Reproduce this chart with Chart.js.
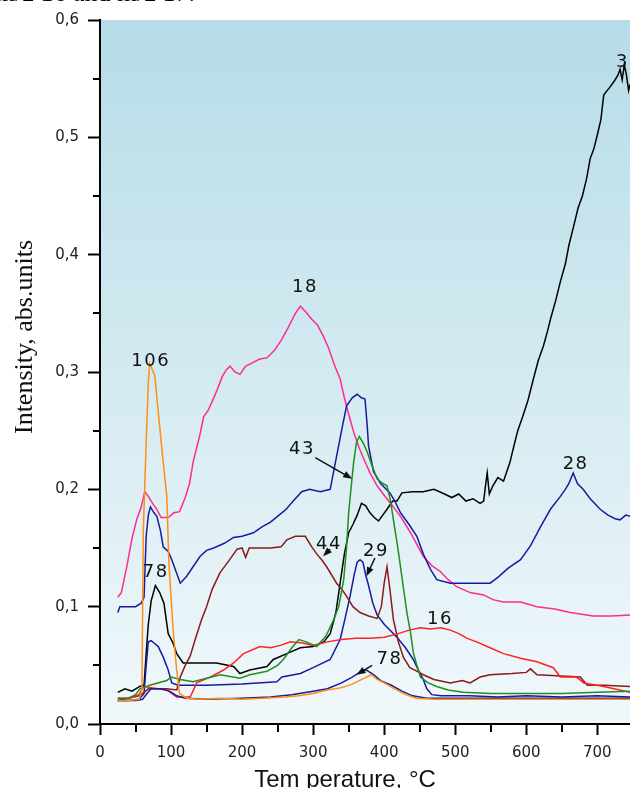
<!DOCTYPE html>
<html>
<head>
<meta charset="utf-8">
<script src="https://cdn.jsdelivr.net/npm/chart.js@4.4.1/dist/chart.umd.min.js"></script>
<style>
  html, body { margin: 0; padding: 0; background: #fff; }
  #wrap { position: relative; width: 630px; height: 788px; overflow: hidden; }
  #chartBox { position: absolute; left: 0; top: 0; width: 630px; height: 788px; }
  #caption { position: absolute; left: -5px; top: -20px; font: 26px/26px "Liberation Serif", serif; color: #000; white-space: nowrap; }
</style>
</head>
<body>
<div id="wrap">
  <div id="chartBox"><canvas id="tpdCanvas"></canvas></div>
  <div id="caption">m/z 16 and m/z 17.</div>
</div>
<script>
// ticks
const xTickValues = [0, 50, 100, 150, 200, 250, 300, 350, 400, 450, 500, 550, 600, 650, 700];
const yTickValues = [0, 0.05, 0.1, 0.15, 0.2, 0.25, 0.3, 0.35, 0.4, 0.45, 0.5, 0.55, 0.6];

// series, [temperature, intensity]
const mz3 = [[25,0.027],[35,0.03],[45,0.028],[56,0.032],[62,0.033],[65,0.06],[68,0.085],[72,0.105],[78,0.118],[84,0.112],[90,0.103],[96,0.077],[102,0.07],[108,0.06],[117,0.052],[141,0.052],[164,0.052],[188,0.049],[197,0.043],[211,0.046],[235,0.049],[244,0.055],[263,0.06],[282,0.065],[300,0.066],[315,0.07],[324,0.077],[332,0.095],[338,0.12],[344,0.145],[350,0.163],[356,0.17],[362,0.178],[368,0.188],[374,0.186],[380,0.18],[386,0.176],[392,0.173],[398,0.178],[404,0.183],[412,0.19],[418,0.19],[425,0.197],[440,0.198],[455,0.198],[470,0.2],[485,0.196],[495,0.193],[505,0.196],[515,0.19],[525,0.192],[535,0.188],[540,0.19],[543,0.205],[545,0.214],[548,0.196],[553,0.203],[560,0.21],[568,0.207],[577,0.223],[583,0.238],[588,0.25],[595,0.262],[602,0.275],[610,0.294],[617,0.31],[624,0.322],[630,0.335],[634,0.345],[641,0.36],[648,0.377],[655,0.392],[660,0.408],[667,0.425],[673,0.44],[679,0.45],[685,0.465],[690,0.482],[695,0.49],[700,0.502],[705,0.515],[709,0.536],[714,0.54],[718,0.543],[724,0.548],[729,0.553],[732,0.558],[735,0.549],[738,0.562],[741,0.553],[744,0.54],[746,0.545]];
const mz18 = [[25,0.108],[30,0.112],[38,0.135],[45,0.158],[52,0.175],[58,0.185],[63,0.198],[68,0.194],[74,0.188],[80,0.183],[86,0.176],[96,0.176],[104,0.18],[112,0.181],[120,0.193],[126,0.205],[131,0.223],[140,0.245],[146,0.262],[152,0.267],[158,0.275],[165,0.285],[172,0.296],[178,0.302],[183,0.305],[190,0.3],[197,0.298],[205,0.305],[215,0.308],[225,0.311],[235,0.312],[245,0.318],[255,0.327],[265,0.338],[275,0.35],[282,0.356],[290,0.351],[298,0.345],[306,0.34],[314,0.331],[322,0.32],[330,0.306],[338,0.294],[344,0.278],[350,0.264],[358,0.247],[365,0.235],[372,0.225],[380,0.214],[390,0.203],[400,0.195],[413,0.185],[425,0.175],[437,0.163],[446,0.153],[455,0.143],[467,0.135],[479,0.13],[490,0.123],[502,0.117],[521,0.112],[540,0.11],[553,0.106],[568,0.104],[592,0.104],[615,0.1],[640,0.098],[662,0.095],[694,0.092],[720,0.092],[746,0.093]];
const mz28 = [[25,0.095],[28,0.1],[40,0.1],[50,0.1],[58,0.103],[62,0.108],[65,0.16],[68,0.178],[71,0.185],[76,0.18],[80,0.177],[85,0.165],[89,0.151],[96,0.147],[101,0.14],[107,0.13],[113,0.12],[122,0.126],[131,0.134],[141,0.143],[150,0.148],[160,0.15],[175,0.154],[188,0.159],[200,0.16],[216,0.163],[228,0.168],[240,0.172],[252,0.178],[262,0.183],[272,0.19],[284,0.198],[295,0.2],[310,0.198],[324,0.2],[333,0.228],[340,0.25],[347,0.271],[355,0.278],[362,0.281],[368,0.278],[373,0.277],[376,0.255],[378,0.237],[385,0.215],[395,0.205],[408,0.197],[415,0.19],[423,0.18],[435,0.17],[446,0.16],[455,0.145],[465,0.132],[474,0.123],[493,0.12],[510,0.12],[521,0.12],[545,0.12],[549,0.12],[560,0.125],[575,0.133],[592,0.14],[606,0.152],[620,0.168],[634,0.183],[648,0.194],[655,0.2],[660,0.205],[666,0.214],[672,0.205],[680,0.2],[690,0.192],[704,0.183],[715,0.178],[725,0.175],[732,0.174],[740,0.178],[746,0.177]];
const mz29 = [[25,0.02],[40,0.02],[55,0.021],[62,0.026],[65,0.05],[68,0.07],[72,0.071],[76,0.069],[82,0.066],[89,0.057],[96,0.046],[101,0.035],[110,0.033],[150,0.033],[200,0.034],[249,0.036],[256,0.04],[282,0.043],[300,0.048],[324,0.055],[338,0.072],[345,0.09],[352,0.109],[358,0.128],[362,0.138],[366,0.14],[370,0.138],[374,0.127],[378,0.118],[384,0.103],[390,0.093],[400,0.085],[418,0.074],[430,0.065],[441,0.055],[448,0.046],[455,0.038],[460,0.03],[467,0.025],[480,0.024],[520,0.024],[560,0.023],[600,0.024],[650,0.023],[700,0.024],[746,0.023]];
const mz44 = [[25,0.02],[40,0.022],[55,0.024],[62,0.027],[68,0.03],[80,0.03],[94,0.03],[108,0.029],[113,0.04],[120,0.05],[127,0.058],[134,0.072],[143,0.089],[150,0.1],[158,0.115],[169,0.129],[180,0.138],[193,0.149],[200,0.15],[205,0.142],[210,0.15],[225,0.15],[240,0.15],[255,0.151],[263,0.157],[275,0.16],[289,0.16],[298,0.151],[305,0.145],[312,0.14],[319,0.134],[326,0.127],[333,0.12],[340,0.115],[347,0.109],[356,0.1],[366,0.095],[378,0.092],[390,0.09],[396,0.1],[400,0.12],[404,0.134],[408,0.115],[413,0.089],[420,0.07],[427,0.057],[436,0.048],[446,0.045],[455,0.042],[470,0.038],[493,0.035],[510,0.037],[521,0.035],[535,0.04],[549,0.042],[580,0.043],[600,0.044],[606,0.047],[615,0.042],[650,0.041],[676,0.04],[686,0.033],[710,0.033],[746,0.032]];
const mz43 = [[25,0.022],[40,0.022],[50,0.025],[56,0.03],[70,0.033],[94,0.037],[100,0.04],[113,0.038],[131,0.036],[150,0.039],[169,0.042],[197,0.039],[211,0.042],[235,0.045],[250,0.05],[258,0.055],[270,0.065],[280,0.072],[290,0.07],[305,0.066],[318,0.075],[329,0.089],[336,0.1],[343,0.123],[347,0.15],[350,0.18],[354,0.205],[357,0.223],[361,0.24],[365,0.245],[370,0.24],[376,0.232],[383,0.22],[390,0.209],[398,0.205],[404,0.203],[409,0.19],[413,0.174],[418,0.155],[423,0.134],[428,0.112],[432,0.095],[437,0.078],[441,0.061],[446,0.05],[451,0.04],[462,0.035],[474,0.032],[490,0.029],[511,0.027],[550,0.026],[600,0.026],[650,0.026],[700,0.027],[746,0.028]];
const mz16 = [[25,0.022],[40,0.022],[55,0.025],[61,0.032],[72,0.031],[82,0.03],[94,0.029],[108,0.023],[127,0.023],[136,0.035],[155,0.04],[174,0.046],[188,0.052],[202,0.06],[225,0.066],[240,0.065],[254,0.067],[268,0.07],[285,0.069],[300,0.067],[320,0.07],[340,0.072],[360,0.073],[380,0.073],[400,0.074],[420,0.077],[435,0.08],[451,0.082],[465,0.081],[480,0.082],[493,0.08],[505,0.077],[517,0.073],[530,0.07],[545,0.066],[568,0.06],[592,0.056],[615,0.053],[638,0.048],[648,0.04],[671,0.04],[681,0.035],[709,0.032],[746,0.027]];
const mz106 = [[25,0.02],[40,0.02],[55,0.021],[59,0.029],[61,0.166],[65,0.24],[68,0.291],[70,0.307],[73,0.303],[77,0.297],[82,0.266],[89,0.223],[94,0.194],[97,0.137],[103,0.08],[108,0.045],[112,0.026],[122,0.022],[140,0.021],[170,0.022],[200,0.021],[230,0.022],[260,0.023],[280,0.024],[300,0.026],[320,0.029],[340,0.031],[355,0.034],[365,0.037],[375,0.04],[382,0.042],[390,0.038],[400,0.035],[415,0.03],[430,0.025],[445,0.022],[470,0.021],[500,0.021],[550,0.021],[600,0.021],[650,0.021],[700,0.021],[746,0.021]];
const mz78 = [[25,0.02],[50,0.02],[60,0.021],[66,0.026],[72,0.03],[85,0.03],[98,0.028],[108,0.024],[120,0.022],[150,0.021],[200,0.022],[240,0.023],[270,0.025],[300,0.028],[320,0.03],[340,0.035],[355,0.04],[368,0.045],[375,0.046],[385,0.042],[395,0.037],[410,0.033],[425,0.028],[440,0.024],[460,0.022],[500,0.022],[600,0.022],[700,0.022],[746,0.022]];

// peak labels and arrows (data coordinates)
const peakNames = ['3', '28', '18', '106', '78', '43', '44', '29', '16', '78'];
const peakAt = [[734,0.564],[668,0.221],[287,0.372],[70,0.309],[77,0.129],[283,0.234],[321,0.153],[387,0.147],[477,0.089],[406,0.055]];
const arrowFrom = [[303,0.227],[324,0.149],[387,0.1415],[383,0.05]];
const arrowTo = [[355,0.209],[314,0.143],[375,0.126],[361,0.042]];

const isMajorX = v => v % 100 === 0;
const isMajorY = v => Math.round(v * 100) % 10 === 0;
const toXY = arr => arr.map(p => ({ x: p[0], y: p[1] }));

function line(label, data, color) {
    return { label: label, data: toXY(data), borderColor: color, borderWidth: 1.5,
             pointRadius: 0, fill: false, tension: 0 };
}

const gradientBg = {
    id: 'gradientBg',
    beforeDraw(chart) {
        const { ctx, chartArea: a } = chart;
        const g = ctx.createLinearGradient(0, a.top, 0, a.bottom);
        g.addColorStop(0, '#b6dce7');
        g.addColorStop(1, '#f1f8fb');
        ctx.save();
        ctx.fillStyle = g;
        ctx.fillRect(a.left, a.top, a.right - a.left, a.bottom - a.top);
        ctx.restore();
    }
};

const decorations = {
    id: 'decorations',
    afterDatasetsDraw(chart) {
        const { ctx, scales: { x, y } } = chart;
        ctx.save();
        ctx.fillStyle = '#111';
        ctx.strokeStyle = '#111';
        ctx.font = '18px "DejaVu Sans"';
        ctx.letterSpacing = '1.5px';
        ctx.textAlign = 'center';
        ctx.textBaseline = 'middle';
        peakNames.forEach((name, i) => {
            ctx.fillText(name, x.getPixelForValue(peakAt[i][0]) + 1, y.getPixelForValue(peakAt[i][1]));
        });
        ctx.letterSpacing = '0px';
        ctx.lineWidth = 1.5;
        arrowFrom.forEach((p, i) => {
            const x0 = x.getPixelForValue(p[0]), y0 = y.getPixelForValue(p[1]);
            const x1 = x.getPixelForValue(arrowTo[i][0]), y1 = y.getPixelForValue(arrowTo[i][1]);
            const ang = Math.atan2(y1 - y0, x1 - x0);
            ctx.beginPath();
            ctx.moveTo(x0, y0);
            ctx.lineTo(x1 - 6 * Math.cos(ang), y1 - 6 * Math.sin(ang));
            ctx.stroke();
            ctx.beginPath();
            ctx.moveTo(x1, y1);
            ctx.lineTo(x1 - 9 * Math.cos(ang) + 3.5 * Math.sin(ang), y1 - 9 * Math.sin(ang) - 3.5 * Math.cos(ang));
            ctx.lineTo(x1 - 9 * Math.cos(ang) - 3.5 * Math.sin(ang), y1 - 9 * Math.sin(ang) + 3.5 * Math.cos(ang));
            ctx.closePath();
            ctx.fill();
        });
        ctx.restore();
    },
    afterDraw(chart) {
        const { ctx, chartArea: a, scales: { x, y } } = chart;
        ctx.save();
        // minor ticks
        ctx.strokeStyle = '#000';
        ctx.lineWidth = 2;
        ctx.beginPath();
        xTickValues.filter(v => !isMajorX(v)).forEach(v => {
            const px = Math.round(x.getPixelForValue(v));
            ctx.moveTo(px, a.bottom);
            ctx.lineTo(px, a.bottom + 8);
        });
        yTickValues.filter(v => !isMajorY(v)).forEach(v => {
            const py = Math.round(y.getPixelForValue(v));
            ctx.moveTo(a.left - 7, py);
            ctx.lineTo(a.left, py);
        });
        ctx.stroke();
        // axis titles
        ctx.fillStyle = '#111';
        ctx.textAlign = 'center';
        ctx.font = '24px "Liberation Sans"';
        ctx.textBaseline = 'alphabetic';
        ctx.fillText('Tem perature, \u00b0C', 345, 787);
        ctx.translate(25, 337);
        ctx.rotate(-Math.PI / 2);
        ctx.font = '26px "Liberation Serif"';
        ctx.textBaseline = 'middle';
        ctx.fillText('Intensity, abs.units', 0, 0);
        ctx.restore();
    }
};

function initChart() {
    const ctx = document.getElementById('tpdCanvas').getContext('2d');
    new Chart(ctx, {
        type: 'line',
        data: {
            datasets: [
                line('106', mz106, '#ff9010'),
                line('78', mz78, '#1a1a9e'),
                line('43', mz43, '#1f8f1f'),
                line('16', mz16, '#ff2222'),
                line('44', mz44, '#8b1a1a'),
                line('29', mz29, '#1a1a9e'),
                line('28', mz28, '#1a1a9e'),
                line('18', mz18, '#ff2b8f'),
                line('3', mz3, '#000000')
            ]
        },
        options: {
            animation: false,
            responsive: true,
            maintainAspectRatio: false,
            layout: { padding: { top: 20, right: 0, bottom: 0, left: 0 } },
            plugins: { legend: { display: false }, tooltip: { enabled: false } },
            scales: {
                x: {
                    type: 'linear', min: 0, max: 746,
                    afterBuildTicks: s => { s.ticks = xTickValues.map(v => ({ value: v })); },
                    afterFit: s => { s.height = 64; },
                    border: { color: '#000', width: 2 },
                    grid: { drawOnChartArea: false, tickLength: 11, tickWidth: 2,
                            tickColor: c => isMajorX(c.tick.value) ? '#000' : 'rgba(0,0,0,0)' },
                    ticks: { padding: 9, color: '#222', font: { family: 'DejaVu Sans', size: 15 },
                             maxRotation: 0, autoSkip: false,
                             callback: v => isMajorX(v) ? String(v) : '' }
                },
                y: {
                    min: 0, max: 0.6,
                    afterBuildTicks: s => { s.ticks = yTickValues.map(v => ({ value: v })); },
                    afterFit: s => { s.width = 100; },
                    border: { color: '#000', width: 2 },
                    grid: { drawOnChartArea: false, tickLength: 12, tickWidth: 2,
                            tickColor: c => isMajorY(c.tick.value) ? '#000' : 'rgba(0,0,0,0)' },
                    ticks: { padding: 9, color: '#222', font: { family: 'DejaVu Sans', size: 15 },
                             autoSkip: false,
                             callback: v => isMajorY(v) ? v.toFixed(1).replace('.', ',') : '' }
                }
            }
        },
        plugins: [gradientBg, decorations]
    });
}

if (typeof Chart !== 'undefined') {
    initChart();
} else {
    window.addEventListener('load', initChart);
}
</script>
</body>
</html>
